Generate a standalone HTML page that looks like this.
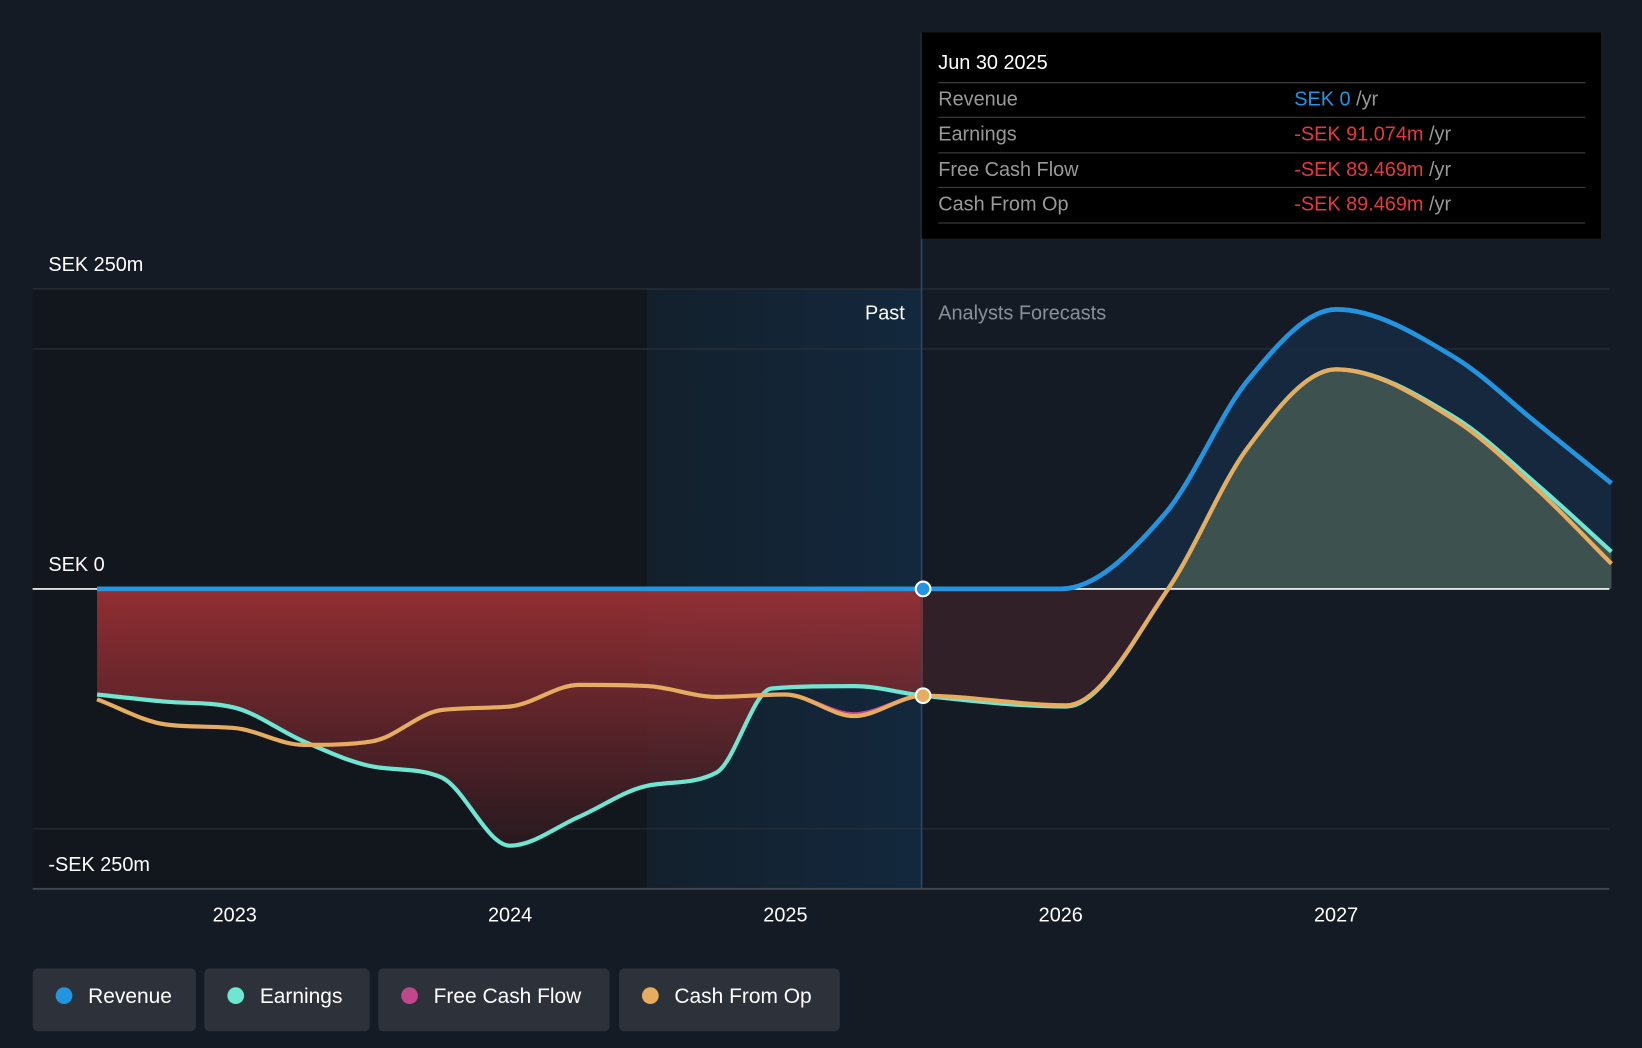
<!DOCTYPE html>
<html><head><meta charset="utf-8"><style>
html,body{margin:0;padding:0;background:#151b24;}
svg{display:block;font-family:"Liberation Sans",sans-serif;}
</style></head><body>
<svg id="chart" width="1642" height="1048" viewBox="0 0 1568 1001">
<defs>
<linearGradient id="pastGrad" x1="0" x2="1" y1="0" y2="0"><stop offset="0" stop-color="#13202c"/><stop offset="1" stop-color="#13283d"/></linearGradient>
<linearGradient id="redGrad" x1="0" x2="0" y1="0" y2="1"><stop offset="0" stop-color="#a83236"/><stop offset="1" stop-color="#2a1a20"/></linearGradient>
<clipPath id="posClip"><rect x="0" y="0" width="1568" height="562.5"/></clipPath>
</defs>
<rect x="0" y="0" width="1568" height="1001" fill="#151b24"/>
<rect x="31" y="276" width="587" height="573" fill="#12161d"/>
<rect x="618" y="276" width="262" height="573" fill="url(#pastGrad)"/>
<g id="grid"></g>
<g id="fills"></g>
<g id="lines"></g>
<line x1="880" y1="31" x2="880" y2="849" stroke="#2a4a66" stroke-width="1.5"/>
<text x="864" y="305" fill="#ffffff" font-size="19" text-anchor="end">Past</text>
<text x="896" y="305" fill="#8a8f98" font-size="19">Analysts Forecasts</text>
<g id="axes"></g>
<g id="dots"></g>
<g>
<rect x="880" y="31" width="649" height="197" fill="#000"/>
<text x="896" y="66" fill="#fff" font-size="19">Jun 30 2025</text>
<line x1="896" x2="1514" y1="79" y2="79" stroke="#444"/>
<line x1="896" x2="1514" y1="112" y2="112" stroke="#444"/>
<line x1="896" x2="1514" y1="146" y2="146" stroke="#444"/>
<line x1="896" x2="1514" y1="179" y2="179" stroke="#444"/>
<line x1="896" x2="1514" y1="213" y2="213" stroke="#444"/>
<g font-size="19" fill="#999">
<text x="896" y="101">Revenue</text><text x="896" y="134">Earnings</text><text x="896" y="168">Free Cash Flow</text><text x="896" y="201">Cash From Op</text>
<text x="1236" y="101"><tspan fill="#2394df">SEK 0</tspan> /yr</text>
<text x="1236" y="134"><tspan fill="#e5393c">-SEK 91.074m</tspan> /yr</text>
<text x="1236" y="168"><tspan fill="#e5393c">-SEK 89.469m</tspan> /yr</text>
<text x="1236" y="201"><tspan fill="#e5393c">-SEK 89.469m</tspan> /yr</text>
</g></g>
<g id="legend"></g>
</svg>
<script>
const yearTicks=[2023,2024,2025,2026,2027];
const valueTicks=[250,0,-250];
const revYears=[2022.5,2023,2024,2025,2025.5,2026,2026.38,2026.68,2027,2027.43,2027.73,2028];
const revVals=[0,0,0,0,0,0,63,174,233,193,138,88];
const earnYears=[2022.5,2022.75,2023,2023.25,2023.5,2023.75,2024,2024.25,2024.5,2024.75,2024.95,2025.25,2025.5,2026.02,2026.39,2026.68,2027,2027.43,2027.73,2028];
const earnVals=[-88,-94,-99,-127,-148,-157,-214,-190,-164,-153,-83,-81,-89,-98,0,118,183,143,87,31];
const cfoYears=[2022.5,2022.75,2023,2023.25,2023.5,2023.75,2024,2024.25,2024.5,2024.75,2025,2025.25,2025.5,2026.02,2026.39,2026.68,2027,2027.43,2027.73,2028];
const cfoVals=[-92,-113,-116,-130,-127,-101,-98,-80,-81,-90,-88,-106,-89,-97,0,118,183,141,83,21];
const fcfVals=[-92,-113,-116,-130,-127,-101,-98,-80,-81,-90,-88,-104,-89,-97,0,118,183,141,83,21];
const NS='http://www.w3.org/2000/svg';
const X=y=>224+(y-2023)*263;
const Y=v=>562.5-v*1.146;
function pts(xs,vs){return xs.map((x,i)=>[X(x),Y(vs[i])]);}
function curve(p){const n=p.length;const dx=[],s=[];for(let i=0;i<n-1;i++){dx.push(p[i+1][0]-p[i][0]);s.push((p[i+1][1]-p[i][1])/dx[i]);}
const m=[s[0]];for(let i=1;i<n-1;i++){m.push(s[i-1]*s[i]<=0?0:(s[i-1]+s[i])/2);}m.push(s[n-2]);
for(let i=0;i<n-1;i++){if(s[i]===0){m[i]=0;m[i+1]=0;continue;}const a=m[i]/s[i],b=m[i+1]/s[i],h=a*a+b*b;if(h>9){const t=3/Math.sqrt(h);m[i]=t*a*s[i];m[i+1]=t*b*s[i];}}
let d='M'+p[0][0]+','+p[0][1];for(let i=0;i<n-1;i++){const h=dx[i]/3;d+=' C'+(p[i][0]+h)+','+(p[i][1]+m[i]*h)+' '+(p[i+1][0]-h)+','+(p[i+1][1]-m[i+1]*h)+' '+p[i+1][0]+','+p[i+1][1];}return d;}
function mk(tag,attrs,parent){const e=document.createElementNS(NS,tag);for(const k in attrs)e.setAttribute(k,attrs[k]);document.getElementById(parent).appendChild(e);return e;}
[250,200,-200].forEach(v=>{const l=mk('line',{x1:31,x2:1537,y1:Y(v),y2:Y(v),stroke:'#2c323b','stroke-width':1},'grid');

});
const eP=pts(earnYears,earnVals),rP=pts(revYears,revVals);
const iPast=earnYears.indexOf(2025.5);
const xEnd=X(revYears[revYears.length-1]);
let f=mk('path',{d:curve(eP.slice(0,iPast+1))+' L'+X(2025.5)+','+Y(0)+' L'+X(2022.5)+','+Y(0)+'Z',fill:'url(#redGrad)',opacity:0.85},'fills');


f=mk('path',{d:curve(eP.slice(iPast))+' L'+xEnd+','+Y(0)+' L'+X(2025.5)+','+Y(0)+'Z',fill:'#3a2229',opacity:0.8},'fills');


f=mk('path',{d:curve(rP)+' L'+xEnd+','+Y(0)+' L'+X(2022.5)+','+Y(0)+'Z',fill:'#162a40',opacity:0.9},'fills');


f=mk('path',{d:curve(eP.slice(iPast))+' L'+xEnd+','+Y(0)+' L'+X(2025.5)+','+Y(0)+'Z',fill:'#3d514f','clip-path':'url(#posClip)'},'fills');


let z=mk('line',{x1:31,x2:1537,y1:Y(0),y2:Y(0),stroke:'#ffffff','stroke-width':1.5},'fills');


let l=mk('path',{d:curve(eP),fill:'none',stroke:'#6ee6d2','stroke-width':4},'lines');


l=mk('path',{d:curve(pts(cfoYears,fcfVals)),fill:'none',stroke:'#c0478a','stroke-width':3},'lines');


l=mk('path',{d:curve(pts(cfoYears,cfoVals)),fill:'none',stroke:'#e6ac60','stroke-width':4},'lines');


l=mk('path',{d:curve(rP),fill:'none',stroke:'#2394df','stroke-width':4.5},'lines');


let d=mk('circle',{cx:X(2025.5),cy:Y(0),r:7,fill:'#2394df',stroke:'#fff','stroke-width':2},'dots');


d=mk('circle',{cx:X(2025.5),cy:Y(cfoVals[cfoYears.indexOf(2025.5)]),r:7,fill:'#e6ac60',stroke:'#fff','stroke-width':2},'dots');


let ax=mk('line',{x1:31,x2:1537,y1:849,y2:849,stroke:'#3f444c','stroke-width':2},'axes');


yearTicks.forEach(y=>{const t=mk('text',{x:X(y),y:880,fill:'#fff','font-size':19,'text-anchor':'middle'},'axes');t.textContent=y;

});
valueTicks.forEach(v=>{const t=mk('text',{x:46,y:v<0?832:Y(v)-17,fill:'#fff','font-size':19},'axes');
t.textContent=v===0?'SEK 0':(v<0?'-SEK '+(-v)+'m':'SEK '+v+'m');

});
const legNames=['Revenue','Earnings','Free Cash Flow','Cash From Op'];
const legColors=['#2394df','#6ee6d2','#c0478a','#e6ac60'];
const legX=[31,195,361,591],legW=[156,158,221,211];
legNames.forEach((n,i)=>{const g=mk('g',{},'legend');


const r=document.createElementNS(NS,'rect');r.setAttribute('x',legX[i]);r.setAttribute('y',925);r.setAttribute('width',legW[i]);r.setAttribute('height',60);r.setAttribute('rx',5);r.setAttribute('fill','#2c313a');g.appendChild(r);
const c=document.createElementNS(NS,'circle');c.setAttribute('cx',legX[i]+30);c.setAttribute('cy',951);c.setAttribute('r',8);c.setAttribute('fill',legColors[i]);g.appendChild(c);
const t=document.createElementNS(NS,'text');t.setAttribute('x',legX[i]+53);t.setAttribute('y',958);t.setAttribute('fill','#fff');t.setAttribute('font-size',20);t.textContent=n;g.appendChild(t);});
</script>
</body></html>
